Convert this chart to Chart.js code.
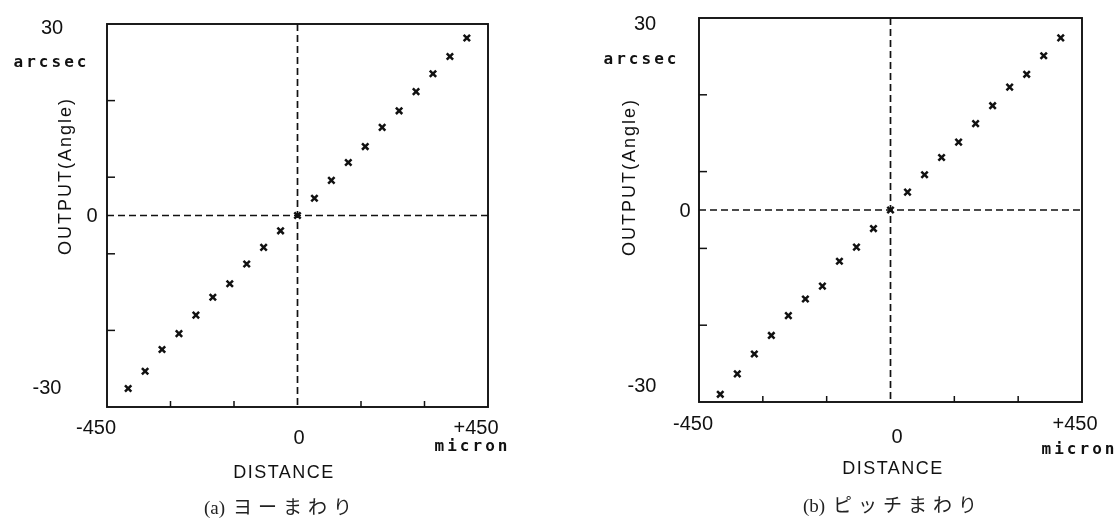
<!DOCTYPE html>
<html><head><meta charset="utf-8">
<script src="https://cdn.jsdelivr.net/npm/chart.js@4/dist/chart.umd.min.js"></script>
<style>
html,body{margin:0;padding:0;background:#fff;width:1115px;height:527px;overflow:hidden}
.panel{position:absolute;top:0;height:527px}
#pa{left:0;width:557px}
#pb{left:557px;width:558px}
canvas{display:block}
.cap{position:absolute;font-family:"Liberation Serif","Noto Sans CJK JP",serif;font-size:19px;color:#222;transform:translate(-50%,-50%);white-space:nowrap;letter-spacing:6px}
.cap span{letter-spacing:0;margin-right:8px}
</style></head>
<body>
<div class="panel" id="pa"><canvas id="ca" width="557" height="527"></canvas></div>
<div class="panel" id="pb"><canvas id="cb" width="558" height="527"></canvas></div>
<div class="cap" style="left:281px;top:505px"><span>(a)</span>ヨーまわり</div>
<div class="cap" style="left:893px;top:503px"><span>(b)</span>ピッチまわり</div>
<script>
// ---- data ----
const distance = [-400,-360,-320,-280,-240,-200,-160,-120,-80,-40,0,40,80,120,160,200,240,280,320,360,400];
const yawOutput = [-27.1,-24.4,-21.0,-18.5,-15.6,-12.8,-10.7,-7.6,-5.0,-2.4,0,2.7,5.5,8.3,10.8,13.8,16.4,19.4,22.2,24.9,27.8];
const pitchOutput = [-28.8,-25.6,-22.5,-19.6,-16.5,-13.9,-11.9,-8.0,-5.8,-2.9,0,2.8,5.5,8.2,10.6,13.5,16.3,19.2,21.2,24.1,26.9];
const xTickValues = [-300,-150,150,300];
const yTickValues = [-18,-6,6,18];
const xTickLabels = ['-450','0','+450'];
const yTickLabels = ['-30','0','30'];
const xTitle = 'DISTANCE';
const yTitle = 'OUTPUT(Angle)';
const xUnit = 'micron';
const yUnit = 'arcsec';

function makeChart(id, values, pad, pos){
  const deco = {
    id:'deco'+id,
    beforeDatasetsDraw(chart){
      const ctx = chart.ctx, a = chart.chartArea, xs = chart.scales.x, ys = chart.scales.y;
      ctx.save();
      ctx.strokeStyle = '#111';
      ctx.lineWidth = 1.7;
      ctx.setLineDash([7,4]);
      const x0 = xs.getPixelForValue(0), y0 = ys.getPixelForValue(0);
      ctx.beginPath(); ctx.moveTo(a.left, y0); ctx.lineTo(a.right, y0); ctx.stroke();
      ctx.beginPath(); ctx.moveTo(x0, a.top); ctx.lineTo(x0, a.bottom); ctx.stroke();
      ctx.setLineDash([]);
      ctx.lineWidth = 1.9;
      ctx.strokeRect(a.left, a.top, a.right - a.left, a.bottom - a.top);
      ctx.lineWidth = 1.5;
      xTickValues.forEach(v => { const p = xs.getPixelForValue(v); ctx.beginPath(); ctx.moveTo(p, a.bottom); ctx.lineTo(p, a.bottom - 6); ctx.stroke(); });
      yTickValues.forEach(v => { const p = ys.getPixelForValue(v); ctx.beginPath(); ctx.moveTo(a.left, p); ctx.lineTo(a.left + 8, p); ctx.stroke(); });
      ctx.fillStyle = '#111';
      ctx.textAlign = 'center'; ctx.textBaseline = 'middle';
      ctx.font = '20px "Liberation Sans", Arial, sans-serif';
      ctx.letterSpacing = '0px';
      ctx.fillText(yTickLabels[2], pos.y30[0], pos.y30[1]);
      ctx.fillText(yTickLabels[1], pos.y0[0], pos.y0[1]);
      ctx.fillText(yTickLabels[0], pos.ym30[0], pos.ym30[1]);
      ctx.fillText(xTickLabels[0], pos.xm[0], pos.xm[1]);
      ctx.fillText(xTickLabels[1], pos.x0[0], pos.x0[1]);
      ctx.fillText(xTickLabels[2], pos.xp[0], pos.xp[1]);
      ctx.font = '600 16px "DejaVu Sans Mono", monospace';
      ctx.letterSpacing = '3px';
      ctx.fillText(yUnit, pos.yu[0] + 1.5, pos.yu[1]);
      ctx.fillText(xUnit, pos.xu[0] + 1.5, pos.xu[1]);
      ctx.font = '18px "Liberation Sans", Arial, sans-serif';
      ctx.letterSpacing = '1.5px';
      ctx.fillText(xTitle, pos.xt[0], pos.xt[1]);
      ctx.save();
      ctx.translate(pos.yt[0], pos.yt[1]);
      ctx.rotate(-Math.PI/2);
      ctx.font = '18px "Liberation Sans", Arial, sans-serif';
      ctx.letterSpacing = '2px';
      ctx.fillText(yTitle, 0, 0);
      ctx.restore();
      ctx.restore();
    }
  };
  return new Chart(document.getElementById(id), {
    type:'scatter',
    data:{ datasets:[{
      data: distance.map((d,i)=>({x:d, y:values[i]})),
      pointStyle:'crossRot', pointRadius:4.5, pointHoverRadius:4.5,
      borderColor:'#111', backgroundColor:'#111', borderWidth:2.5, showLine:false
    }]},
    options:{
      responsive:false, devicePixelRatio:1, animation:false,
      layout:{padding:pad},
      plugins:{legend:{display:false}, tooltip:{enabled:false}, title:{display:false}},
      scales:{
        x:{type:'linear', min:-450, max:450, display:false},
        y:{type:'linear', min:-30, max:30, display:false}
      }
    },
    plugins:[deco]
  });
}

makeChart('ca', yawOutput, {left:107, top:24, right:69, bottom:120}, {
  y30:[52,28], y0:[92,216], ym30:[47,388], xm:[96,428], x0:[299,438], xp:[476,428],
  yu:[50,63], xu:[471,447], xt:[284,473], yt:[66,176]
});
makeChart('cb', pitchOutput, {left:142, top:18, right:33, bottom:125}, {
  y30:[88,24], y0:[128,211], ym30:[85,386], xm:[136,424], x0:[340,437], xp:[518,424],
  yu:[83,60], xu:[521,450], xt:[336,469], yt:[73,177]
});
</script>
</body></html>
